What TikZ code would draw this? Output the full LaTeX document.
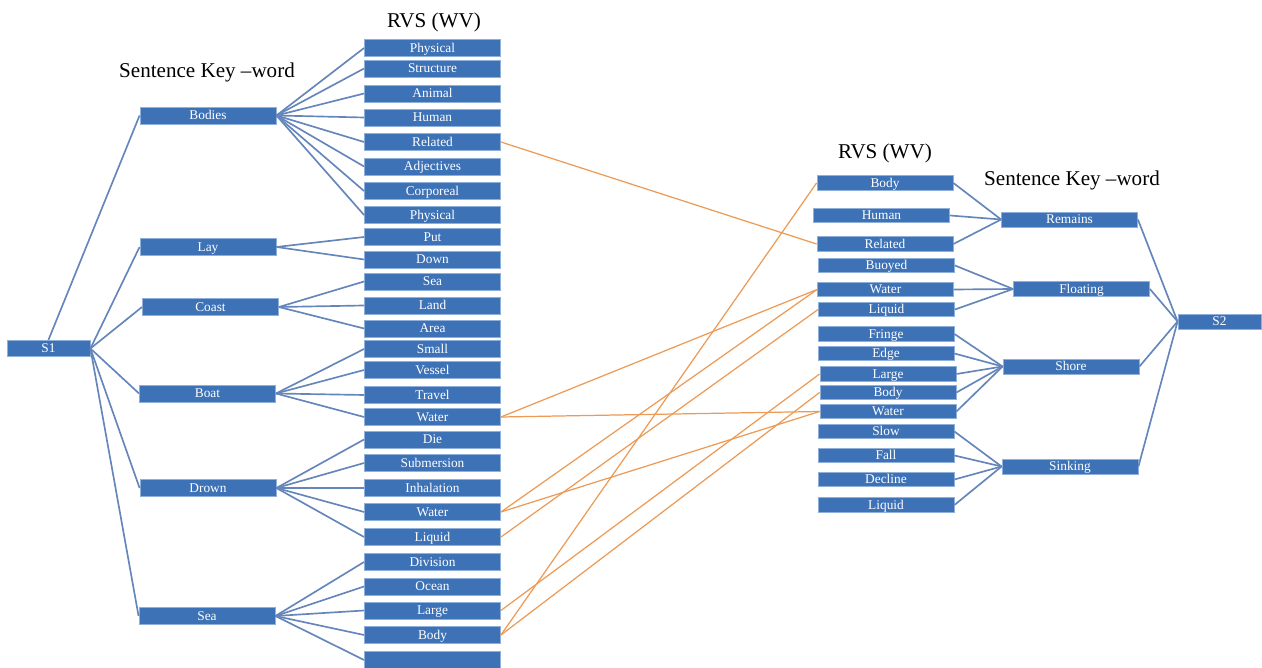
\documentclass[tikz,border=0pt]{standalone}
\usepackage{fontspec}
\setmainfont{Liberation Serif}
\definecolor{boxblue}{HTML}{3E72B6}
\definecolor{boxedge}{HTML}{8FB0DA}
\definecolor{linkblue}{HTML}{6586BA}
\definecolor{linkorange}{HTML}{EC9A55}
\tikzset{
  box/.style={draw=boxedge, line width=0.5pt, fill=boxblue, text=white, inner sep=0pt,
    font=\fontsize{7.6}{8}\selectfont, text height=5.0pt, text depth=0.3pt, minimum width=2.72cm},
  lbox/.style={box, minimum height=0.34cm},
  rbox/.style={box, minimum height=0.29cm},
  kbox/.style={box, minimum height=0.34cm},
  sbox/.style={box, minimum width=1.66cm, minimum height=0.33cm},
  title/.style={font=\fontsize{12}{14}\selectfont, inner sep=0pt},
  link/.style={draw=linkblue, line width=0.95pt},
  cross/.style={draw=linkorange, line width=0.7pt}
}
\begin{document}
\begin{tikzpicture}[x=0.02cm, y=-0.02cm]
\useasboundingbox (0,0) rectangle (1262,668);
% titles
\node[title] (t1) at (434,22) {RVS (WV)};
\node[title] (t2) at (207,72) {Sentence Key \textendash word};
\node[title] (t3) at (885,153) {RVS (WV)};
\node[title] (t4) at (1072,180) {Sentence Key \textendash word};
% S1, S2
\node[sbox] (S1) at (48.5,348.5) {S1};
\node[sbox, minimum height=0.3cm] (S2) at (1219.5,321.5) {S2};
% left keywords
\node[kbox] (Bodies) at (208,115.5) {Bodies};
\node[kbox] (Lay) at (208,247) {Lay};
\node[kbox] (Coast) at (210.5,307) {Coast};
\node[kbox] (Boat) at (207.5,393.5) {Boat};
\node[kbox] (Drown) at (208,488) {Drown};
\node[kbox] (Sea) at (207,616) {Sea};
% left RVS
\foreach \n/\t/\y in {1/Physical/48, 2/Structure/68.5, 3/Animal/93.5, 4/Human/117.5,
  5/Related/142, 6/Adjectives/166.5, 7/Corporeal/191, 8/Physical/215, 9/Put/237,
  10/Down/259.5, 11/Sea/281.5, 12/Land/305.5, 13/Area/328.5, 14/Small/349,
  15/Vessel/370, 16/Travel/395, 17/Water/417, 18/Die/439.5, 19/Submersion/463,
  20/Inhalation/488, 21/Water/512, 22/Liquid/537, 23/Division/562, 24/Ocean/586.5,
  25/Large/610.5, 26/Body/635, 27/{}/660}
  \node[lbox] (L\n) at (432.5,\y) {\t};
% right RVS
\foreach \n/\t/\x/\y in {1/Body/885/183, 2/Human/881.5/215.5, 3/Related/885/244,
  4/Buoyed/886.5/265.5, 5/Water/885.5/289.5, 6/Liquid/886.5/309.5, 7/Fringe/886/334,
  8/Edge/886/353.5, 9/Large/888/374, 10/Body/888/392.5, 11/Water/888/411.5,
  12/Slow/886/431.5, 13/Fall/886/455.5, 14/Decline/886/479.5, 15/Liquid/886/505}
  \node[rbox] (R\n) at (\x,\y) {\t};
% right keywords
\node[kbox, minimum height=0.3cm] (Remains) at (1069.5,219.5) {Remains};
\node[kbox, minimum height=0.3cm] (Floating) at (1081.5,289) {Floating};
\node[kbox, minimum height=0.3cm] (Shore) at (1071,366.5) {Shore};
\node[kbox, minimum height=0.3cm] (Sinking) at (1070,466.5) {Sinking};
% S1 to keywords
\draw[link] (S1.north) -- (Bodies.west);
\foreach \k in {Lay,Coast,Boat,Drown,Sea} \draw[link] (S1.east) -- (\k.west);
% keywords to left RVS
\foreach \i in {1,...,8} \draw[link] (Bodies.east) -- (L\i.west);
\foreach \i in {9,10} \draw[link] (Lay.east) -- (L\i.west);
\foreach \i in {11,12,13} \draw[link] (Coast.east) -- (L\i.west);
\foreach \i in {14,...,17} \draw[link] (Boat.east) -- (L\i.west);
\foreach \i in {18,...,22} \draw[link] (Drown.east) -- (L\i.west);
\foreach \i in {23,...,27} \draw[link] (Sea.east) -- (L\i.west);
% right RVS to keywords
\foreach \i in {1,2,3} \draw[link] (R\i.east) -- (Remains.west);
\foreach \i in {4,5,6} \draw[link] (R\i.east) -- (Floating.west);
\foreach \i in {7,...,11} \draw[link] (R\i.east) -- (Shore.west);
\foreach \i in {12,...,15} \draw[link] (R\i.east) -- (Sinking.west);
\foreach \k in {Remains,Floating,Shore,Sinking} \draw[link] (\k.east) -- (S2.west);
% cross links
\foreach \a/\b in {5/3, 17/5, 17/11, 21/5, 21/11, 22/6, 25/9, 26/10, 26/1}
  \draw[cross] (L\a.east) -- (R\b.west);
\end{tikzpicture}
\end{document}
